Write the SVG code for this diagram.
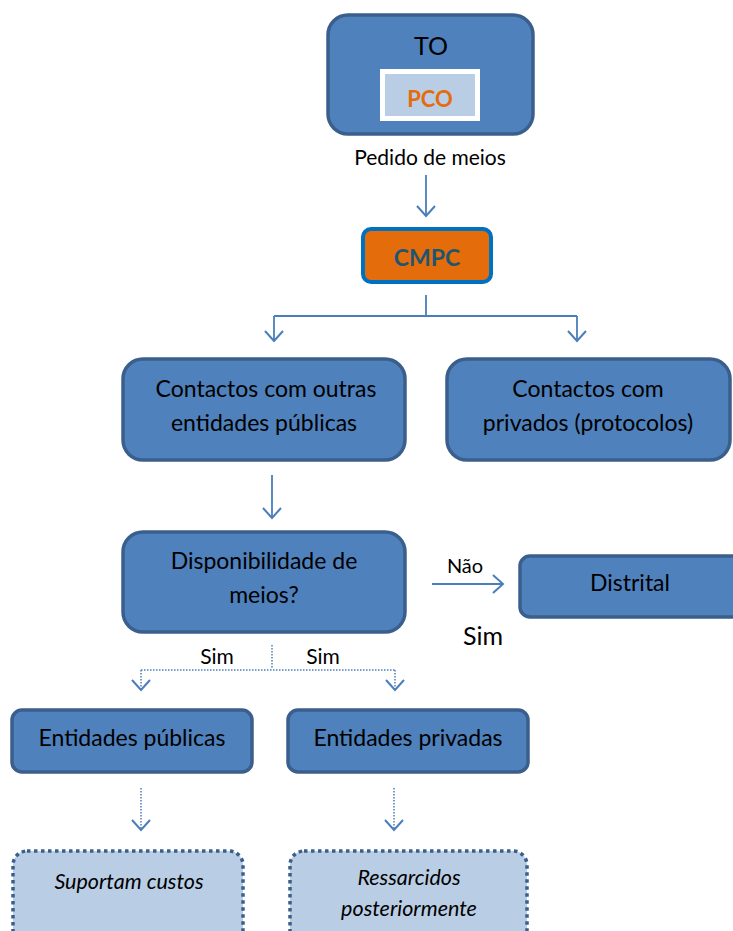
<svg xmlns="http://www.w3.org/2000/svg" width="733" height="931" viewBox="0 0 733 931">
<defs>
<style>
.box{fill:#4f81bd;stroke:#3b5f8c;stroke-width:3.5}
.t{font-family:Lato,"Liberation Sans",sans-serif;fill:#000;text-anchor:middle}
.t20{font-size:23px}
.it{font-size:21.5px;font-style:italic}
.ln{stroke:#4a7ebb;stroke-width:1.8;fill:none}
.dot{stroke:#4a7ebb;stroke-width:1.5;fill:none;stroke-dasharray:1.5 1.5}
.dbox{fill:#b9cde5;stroke:#3b5f8c;stroke-width:3.5;stroke-dasharray:3.5 3.5}
</style>
<marker id="ah" markerWidth="24" markerHeight="24" refX="11" refY="10" orient="auto" markerUnits="userSpaceOnUse" viewBox="0 0 24 24">
<path d="M1,1 L11,10 L1,19" fill="none" stroke="#4a7ebb" stroke-width="2"/>
</marker>
</defs>
<rect width="733" height="931" fill="#fff"/>
<g id="connectors">
<line class="ln" x1="426" y1="175" x2="426" y2="216" marker-end="url(#ah)"/>
<path class="ln" d="M426,295 V316 M274,316 H577"/>
<line class="ln" x1="274" y1="316" x2="274" y2="341" marker-end="url(#ah)"/>
<line class="ln" x1="577" y1="316" x2="577" y2="341" marker-end="url(#ah)"/>
<line class="ln" x1="272" y1="475" x2="272" y2="518" marker-end="url(#ah)"/>
<line class="ln" x1="432" y1="584" x2="503" y2="584" marker-end="url(#ah)"/>
<text class="t" x="465" y="573" font-size="20">Não</text>
<text class="t" x="483" y="645" font-size="25">Sim</text>
<path class="dot" d="M272,645 V669 M141,670 H395"/>
<line class="dot" x1="141" y1="670" x2="141" y2="690" marker-end="url(#ah)"/>
<line class="dot" x1="395" y1="670" x2="395" y2="690" marker-end="url(#ah)"/>
<text class="t" x="217" y="664" font-size="21">Sim</text>
<text class="t" x="323" y="664" font-size="21">Sim</text>
<line class="dot" x1="141" y1="788" x2="141" y2="830" marker-end="url(#ah)"/>
<line class="dot" x1="394" y1="788" x2="394" y2="830" marker-end="url(#ah)"/>
</g>
<g id="to">
<rect class="box" x="328" y="15" width="205" height="119" rx="20"/>
<text class="t" x="431" y="55" font-size="25">TO</text>
<rect x="380" y="69" width="100" height="52" fill="#fff"/>
<rect x="385" y="74" width="90" height="42" fill="#b9cde5"/>
<text class="t" x="430" y="107" font-size="22" font-weight="bold" style="fill:#e46c0a">PCO</text>
<text class="t" x="430" y="165" font-size="21">Pedido de meios</text>
</g>
<g id="cmpc">
<rect x="363" y="229" width="128" height="53" rx="8" fill="#e46c0a" stroke="#0070c0" stroke-width="4"/>
<text class="t" x="427" y="266" font-size="23" font-weight="bold" style="fill:#1f5570">CMPC</text>
</g>
<g id="publicas">
<rect class="box" x="123" y="359" width="282" height="101" rx="20"/>
<text class="t t20" x="266" y="397">Contactos com outras</text>
<text class="t t20" x="264" y="431">entidades públicas</text>
</g>
<g id="privados">
<rect class="box" x="447" y="359" width="283" height="101" rx="20"/>
<text class="t t20" x="588" y="397">Contactos com</text>
<text class="t t20" x="588" y="431">privados (protocolos)</text>
</g>
<g id="disponibilidade">
<rect class="box" x="123" y="532" width="282" height="100" rx="20"/>
<text class="t t20" x="264" y="569">Disponibilidade de</text>
<text class="t t20" x="264" y="603">meios?</text>
</g>
<g id="distrital">
<rect class="box" x="520" y="556" width="230" height="61" rx="10"/>
<text class="t t20" x="630" y="591">Distrital</text>
</g>
<g id="ent-publicas">
<rect class="box" x="12" y="710" width="240" height="62" rx="10"/>
<text class="t t20" x="132" y="746">Entidades públicas</text>
</g>
<g id="ent-privadas">
<rect class="box" x="288" y="710" width="240" height="62" rx="10"/>
<text class="t t20" x="408" y="746">Entidades privadas</text>
</g>
<g id="suportam">
<rect class="dbox" x="13" y="851" width="230" height="100" rx="14"/>
<text class="t it" x="129" y="889">Suportam custos</text>
</g>
<g id="ressarcidos">
<rect class="dbox" x="290" y="851" width="237" height="100" rx="14"/>
<text class="t it" x="409" y="885">Ressarcidos</text>
<text class="t it" x="409" y="916">posteriormente</text>
</g>
</svg>
